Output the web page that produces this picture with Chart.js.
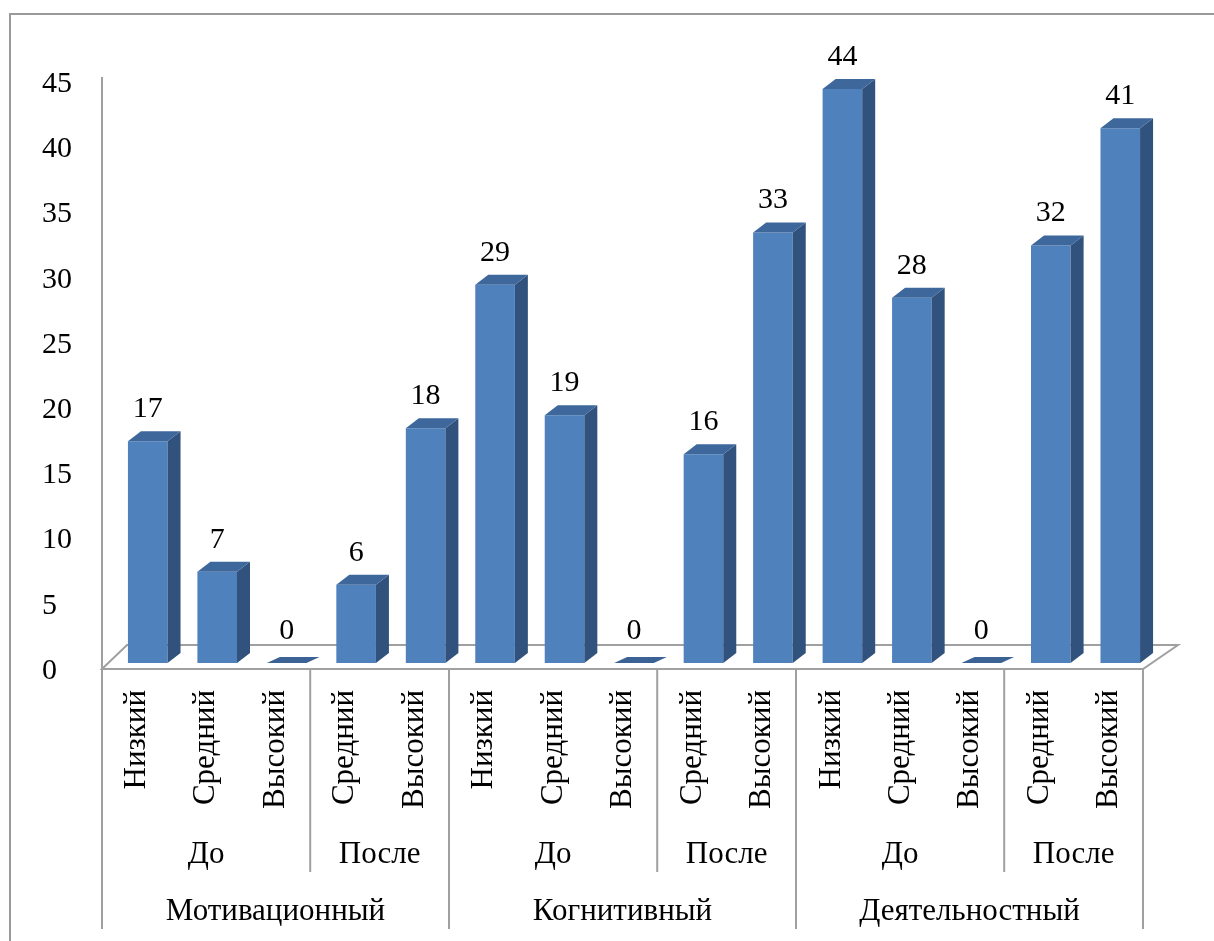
<!DOCTYPE html>
<html>
<head>
<meta charset="utf-8">
<script src="https://cdn.jsdelivr.net/npm/chart.js@4/dist/chart.umd.min.js"></script>
<style>
  html, body { margin: 0; padding: 0; background: #fff; }
  canvas { display: block; }
</style>
</head>
<body>
<canvas id="chart" width="1214" height="941"></canvas>
<script>
// уровни (нижний ряд подписей)
const levels = ['Низкий', 'Средний', 'Высокий', 'Средний', 'Высокий',
                'Низкий', 'Средний', 'Высокий', 'Средний', 'Высокий',
                'Низкий', 'Средний', 'Высокий', 'Средний', 'Высокий'];
// этап для каждого столбца
const stages = ['До', 'До', 'До', 'После', 'После',
                'До', 'До', 'До', 'После', 'После',
                'До', 'До', 'До', 'После', 'После'];
// критерий для каждого столбца
const criteria = ['Мотивационный', 'Мотивационный', 'Мотивационный', 'Мотивационный', 'Мотивационный',
                  'Когнитивный', 'Когнитивный', 'Когнитивный', 'Когнитивный', 'Когнитивный',
                  'Деятельностный', 'Деятельностный', 'Деятельностный', 'Деятельностный', 'Деятельностный'];
const values = [17, 7, 0, 6, 18, 29, 19, 0, 16, 33, 44, 28, 0, 32, 41];
const yMin = 0, yMax = 45, yStep = 5;

const FONT = '"Liberation Serif", "Times New Roman", "DejaVu Serif", serif';
const DX = 13, DY = -10;       // глубина столбцов
const FX = -11, FY = 6;        // сдвиг передней плоскости
const LINE = '#A0A0A0';

// группы подряд идущих одинаковых подписей
function runs(arr) {
    const out = [];
    arr.forEach((v, i) => {
        const last = out[out.length - 1];
        if (last && last.label === v && (criteria[i] === criteria[last.from])) last.to = i;
        else out.push({ label: v, from: i, to: i });
    });
    return out;
}

const decor = {
    id: 'decor',
    beforeDatasetsDraw(chart) {
        const { ctx, chartArea: a, scales: { x, y } } = chart;
        const y0 = y.getPixelForValue(yMin);
        const fl = a.left + FX, fr = a.right - 12;
        const front = y0 + FY;
        ctx.save();
        ctx.strokeStyle = '#9A9A9A';
        ctx.lineWidth = 2;
        ctx.strokeRect(10, 14, 1400, 1000);

        ctx.strokeStyle = LINE;
        // пол
        ctx.beginPath();
        ctx.moveTo(fl, front);
        ctx.lineTo(a.left + 14, y0 - 18);
        ctx.lineTo(a.right + 23, y0 - 18);
        ctx.lineTo(fr, front);
        ctx.closePath();
        ctx.stroke();
        // ось значений
        ctx.beginPath();
        ctx.moveTo(fl, y.getPixelForValue(yMax) + 1);
        ctx.lineTo(fl, front);
        ctx.stroke();

        // разделители подписей категорий
        const n = levels.length;
        const colX = k => fl + k * (fr - fl) / n;
        const l2 = runs(stages), l3 = runs(criteria);
        const seps = new Map();
        l2.forEach(g => { seps.set(g.from, 872); seps.set(g.to + 1, 872); });
        l3.forEach(g => { seps.set(g.from, 929); seps.set(g.to + 1, 929); });
        seps.forEach((bottom, k) => {
            ctx.beginPath();
            ctx.moveTo(colX(k), front);
            ctx.lineTo(colX(k), bottom);
            ctx.stroke();
        });

        ctx.fillStyle = '#000';
        ctx.font = '31px ' + FONT;
        ctx.textAlign = 'center';
        ctx.textBaseline = 'middle';
        l2.forEach(g => ctx.fillText(g.label, (colX(g.from) + colX(g.to + 1)) / 2, 855));
        l3.forEach(g => ctx.fillText(g.label, (colX(g.from) + colX(g.to + 1)) / 2, 912));
        ctx.restore();
    },
    afterDatasetsDraw(chart) {
        const { ctx } = chart;
        const meta = chart.getDatasetMeta(0);
        ctx.save();
        meta.data.forEach((bar, i) => {
            const p = bar.getProps(['x', 'y', 'base', 'width'], true);
            const l = p.x - p.width / 2, r = p.x + p.width / 2;
            const dy = values[i] === 0 ? -6 : DY;
            // боковая грань
            if (p.base - p.y > 0.5) {
                ctx.fillStyle = '#30527D';
                ctx.beginPath();
                ctx.moveTo(r, p.y);
                ctx.lineTo(r + DX, p.y + dy);
                ctx.lineTo(r + DX, p.base + dy);
                ctx.lineTo(r, p.base);
                ctx.closePath();
                ctx.fill();
            }
            // верхняя грань
            ctx.fillStyle = values[i] === 0 ? '#3A6294' : '#3E679B';
            ctx.beginPath();
            ctx.moveTo(l, p.y);
            ctx.lineTo(l + DX, p.y + dy);
            ctx.lineTo(r + DX, p.y + dy);
            ctx.lineTo(r, p.y);
            ctx.closePath();
            ctx.fill();
            // подпись значения
            ctx.fillStyle = '#000';
            ctx.font = '30px ' + FONT;
            ctx.textAlign = 'center';
            ctx.textBaseline = 'middle';
            ctx.fillText(values[i], p.x, p.y - 32);
        });
        ctx.restore();
    }
};

new Chart(document.getElementById('chart'), {
    type: 'bar',
    data: {
        labels: levels,
        datasets: [{
            data: values,
            backgroundColor: '#4F81BD',
            borderWidth: 0,
            categoryPercentage: 1,
            barPercentage: 0.57
        }]
    },
    options: {
        responsive: false,
        animation: false,
        layout: { padding: { left: 42, top: 76, right: 59, bottom: 0 } },
        plugins: {
            legend: { display: false },
            tooltip: { enabled: false }
        },
        scales: {
            x: {
                grid: { display: false, drawTicks: false },
                border: { display: false },
                ticks: {
                    autoSkip: false,
                    minRotation: 90,
                    maxRotation: 90,
                    padding: 27,
                    labelOffset: FX,
                    color: '#000',
                    font: { family: FONT, size: 31 }
                },
                afterFit(s) { s.height = 278; }
            },
            y: {
                min: yMin,
                max: yMax,
                grid: { display: false, drawTicks: false },
                border: { display: false },
                ticks: {
                    stepSize: yStep,
                    crossAlign: 'far',
                    labelOffset: FY + 2,
                    color: '#000',
                    font: { family: FONT, size: 30 }
                },
                afterFit(s) { s.width = 71; }
            }
        }
    },
    plugins: [decor]
});
</script>
</body>
</html>
